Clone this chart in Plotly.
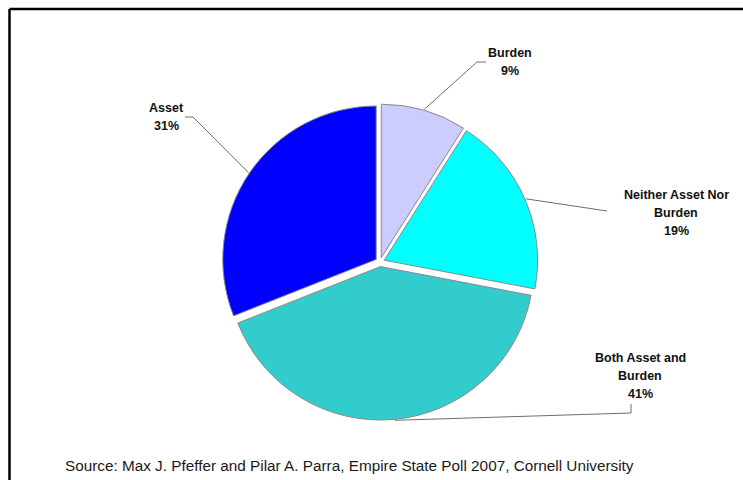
import math
import plotly.graph_objects as go

# Survey shares, clockwise from 12 o'clock
categories = ["Burden", "Neither Asset Nor Burden", "Both Asset and Burden", "Asset"]
shares = [9, 19, 41, 31]
label_lines = [["Burden"], ["Neither Asset Nor", "Burden"], ["Both Asset and", "Burden"], ["Asset"]]
colors = ["#CCCCFF", "#00FFFF", "#33CCCC", "#0000FF"]
source_text = "Source: Max J. Pfeffer and Pilar A. Parra, Empire State Poll 2007, Cornell University"

W, H = 743, 480
FONT = "Liberation Sans, Arial, sans-serif"

# Pie placement (pixels)
cx, cy = 380, 262
pull = 0.03
box = 316
r = box / (2 + 2 * pull)
dom_x = [(cx - box / 2) / W, (cx + box / 2) / W]
dom_y = [(H - cy - box / 2) / H, (H - cy + box / 2) / H]

fig = go.Figure(go.Pie(
    labels=categories,
    values=shares,
    sort=False,
    direction="clockwise",
    rotation=0,
    pull=[pull] * len(shares),
    marker=dict(colors=colors, line=dict(color="#8a8a8a", width=1)),
    textinfo="none",
    hoverinfo="label+percent",
    showlegend=False,
    domain=dict(x=dom_x, y=dom_y),
))


def px(x, y):
    return x / W, 1 - y / H


# Anchor of each leader line at the mid-angle of its slice
total = sum(shares)
anchors = []
acc = 0
for v in shares:
    mid = (acc + v / 2) / total * 2 * math.pi
    acc += v
    rr = r * (1 + pull) + 1
    anchors.append((cx + rr * math.sin(mid), cy - rr * math.cos(mid)))

# Leader line routes (label side) and label text centres, pixels
routes = [
    [(477, 62), (486, 62)],
    [(607, 211)],
    [(631, 413), (631, 404)],
    [(193, 117), (185, 117)],
]
label_pos = [(510, 53), (676, 195), (640, 358), (166, 108)]
line_gap = 18

shapes = []
for (ax, ay), route in zip(anchors, routes):
    pts = [(ax, ay)] + route
    path = ""
    for i, (x, y) in enumerate(pts):
        X, Y = px(x, y)
        path += ("M" if i == 0 else "L") + f" {X:.5f} {Y:.5f} "
    shapes.append(dict(type="path", xref="paper", yref="paper", path=path,
                       line=dict(color="#6e6e6e", width=1)))

annotations = []
for lines, v, (lx, ly) in zip(label_lines, shares, label_pos):
    rows = lines + [f"{v}%"]
    for k, row in enumerate(rows):
        X, Y = px(lx, ly + k * line_gap)
        annotations.append(dict(
            text=f"<b>{row}</b>", x=X, y=Y, xref="paper", yref="paper",
            xanchor="center", yanchor="middle", showarrow=False,
            font=dict(family=FONT, size=12.5, color="#111111"),
        ))

sx, sy = px(63, 465)
annotations.append(dict(
    text=source_text, x=sx, y=sy, xref="paper", yref="paper",
    xanchor="left", yanchor="middle", showarrow=False,
    font=dict(family=FONT, size=15.3, color="#1a1a1a"),
))

# Frame: top and left edges
x0, y0 = px(9.5, 9)
x1, _ = px(743, 9)
_, y1 = px(9.5, 480)
shapes.append(dict(type="line", xref="paper", yref="paper", x0=x0, y0=y0, x1=x1, y1=y0,
                   line=dict(color="black", width=2.5)))
shapes.append(dict(type="line", xref="paper", yref="paper", x0=x0, y0=y0, x1=x0, y1=y1,
                   line=dict(color="black", width=2.5)))

fig.update_layout(
    width=W, height=H,
    margin=dict(l=0, r=0, t=0, b=0),
    paper_bgcolor="white",
    plot_bgcolor="white",
    shapes=shapes,
    annotations=annotations,
)

fig.write_html("out.html")
